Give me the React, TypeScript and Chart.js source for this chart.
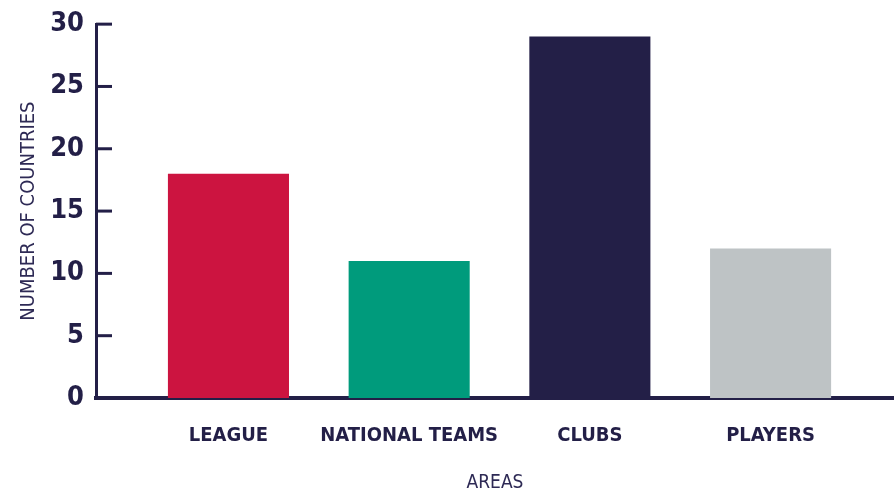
import React, { useEffect, useRef } from "react";
import { Chart, registerables } from "chart.js";

Chart.register(...registerables);

const categories = ["LEAGUE", "NATIONAL TEAMS", "CLUBS", "PLAYERS"];
const values = [18, 11, 29, 12];
const barColors = ["#CC1440", "#009B7C", "#231F47", "#BEC3C5"];
const yTicks = [0, 5, 10, 15, 20, 25, 30];
const xTitle = "AREAS";
const yTitle = "NUMBER OF COUNTRIES";

const NAVY = "#231F47";
const FONT = "'DejaVu Sans', sans-serif";

const innerTicks = {
  id: "innerTicks",
  afterDatasetsDraw(chart: any) {
    const y = chart.scales.y;
    const ctx = chart.ctx;
    const left = chart.chartArea.left;
    ctx.save();
    ctx.strokeStyle = NAVY;
    ctx.lineWidth = 3;
    yTicks.forEach((v) => {
      const py = y.getPixelForValue(v);
      if (v === 0) return;
      ctx.beginPath();
      ctx.moveTo(left, py);
      ctx.lineTo(left + 16, py);
      ctx.stroke();
    });
    ctx.restore();
  },
};

export default function App() {
  const ref = useRef<HTMLCanvasElement>(null);
  useEffect(() => {
    document.body.style.margin = "0";
    const chart = new Chart(ref.current!, {
      type: "bar",
      data: {
        datasets: [
          {
            data: values.map((v, i) => ({ x: i + 1, y: v })),
            backgroundColor: barColors,
            categoryPercentage: 1,
            barPercentage: 0.67,
          },
        ],
      },
      options: {
        animation: false,
        responsive: false,
        maintainAspectRatio: false,
        layout: { padding: 0 },
        plugins: { legend: { display: false }, tooltip: { enabled: false } },
        scales: {
          x: {
            type: "linear",
            offset: false,
            min: 0.267,
            max: 4.683,
            afterBuildTicks: (s: any) => {
              s.ticks = categories.map((_, i) => ({ value: i + 1 }));
            },
            afterFit: (s: any) => {
              s.height = 96;
            },
            grid: { display: false, drawTicks: false },
            border: { display: true, color: NAVY, width: 4 },
            ticks: {
              autoSkip: false,
              maxRotation: 0,
              padding: 26,
              color: NAVY,
              font: { family: FONT, size: 20, weight: "bold condensed" },
              callback: (v: any) => categories[Math.round(v) - 1] ?? "",
            },
            title: {
              display: true,
              text: xTitle,
              color: "#2E2A55",
              font: { family: FONT, size: 19, weight: "normal condensed" },
              padding: { top: 0, bottom: 0 },
            },
          },
          y: {
            min: 0,
            max: 30,
            afterBuildTicks: (s: any) => {
              s.ticks = yTicks.map((v) => ({ value: v }));
            },
            afterFit: (s: any) => {
              s.width = 96;
            },
            grid: { display: false, drawTicks: false },
            border: { display: true, color: NAVY, width: 3 },
            ticks: {
              padding: 12,
              color: NAVY,
              font: { family: FONT, size: 27, weight: "bold condensed", lineHeight: 0.9 },
            },
            title: {
              display: true,
              text: yTitle,
              color: "#2E2A55",
              font: { family: FONT, size: 20, weight: "normal condensed" },
              padding: { top: 17, bottom: 0 },
            },
          },
        },
      },
      plugins: [innerTicks],
    } as any);
    return () => chart.destroy();
  }, []);
  return (
    <div style={{ position: "absolute", left: 0, top: 0, width: 894, height: 494 }}>
      <canvas ref={ref} width={894} height={494} style={{ width: 894, height: 494 }} />
    </div>
  );
}
